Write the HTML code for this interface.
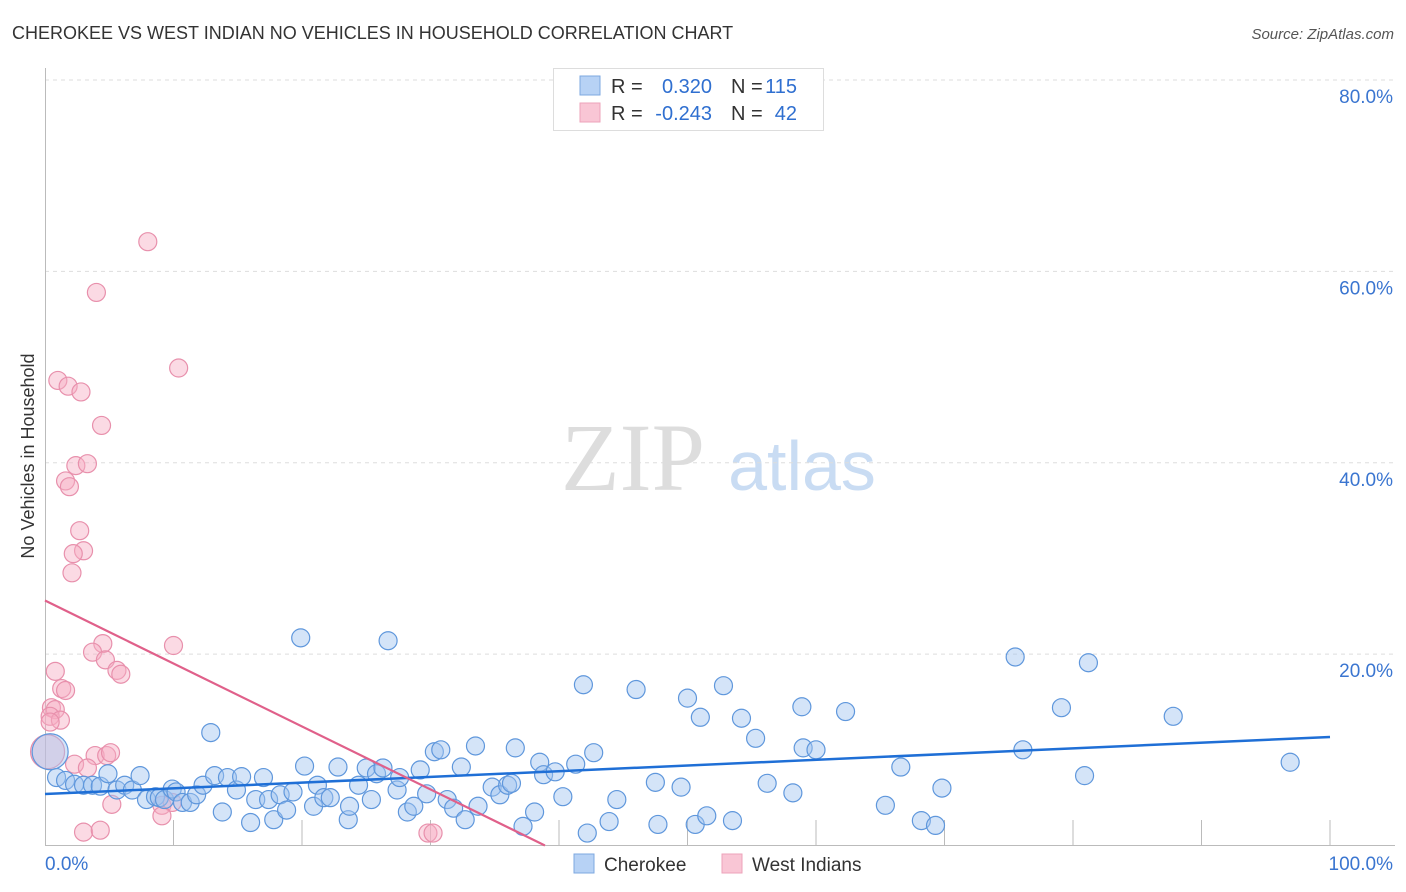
<!DOCTYPE html>
<html><head><meta charset="utf-8">
<style>
body{margin:0;background:#fff;font-family:"Liberation Sans",sans-serif;}
svg{display:block}
</style></head>
<body>
<svg id="chart" width="1406" height="892" xmlns="http://www.w3.org/2000/svg">
<text x="12" y="39" font-size="18" fill="#333">CHEROKEE VS WEST INDIAN NO VEHICLES IN HOUSEHOLD CORRELATION CHART</text>
<text x="1394" y="39" font-size="15" fill="#555" font-style="italic" text-anchor="end">Source: ZipAtlas.com</text>
<g>
<text x="633" y="490" font-size="96" fill="#ddd" font-family="Liberation Serif,serif" text-anchor="middle">ZIP</text>
<text x="802" y="490" font-size="70" fill="#c9dcf3" text-anchor="middle">atlas</text>
</g>
<g id="grid"></g>
<g id="axes"></g>
<g id="pinkpts"></g>
<g id="bluepts"></g>
<g id="lines"></g>
<text transform="translate(34,456) rotate(-90)" font-size="18" fill="#333" text-anchor="middle">No Vehicles in Household</text>
<g>
<rect x="553.5" y="68.5" width="270" height="62" fill="#fff" stroke="#ddd"/>
<rect x="580" y="76" width="20" height="19" fill="#b7d2f5" stroke="#7ea8e0"/>
<rect x="580" y="103" width="20" height="19" fill="#f9c6d5" stroke="#eda3ba"/>
<text x="611" y="93" font-size="20" fill="#333">R = </text><text x="712" y="93" font-size="20" fill="#2f6fd0" text-anchor="end">0.320</text>
<text x="731" y="93" font-size="20" fill="#333">N = </text><text x="797" y="93" font-size="20" fill="#2f6fd0" text-anchor="end">115</text>
<text x="611" y="120" font-size="20" fill="#333">R = </text><text x="712" y="120" font-size="20" fill="#2f6fd0" text-anchor="end">-0.243</text>
<text x="731" y="120" font-size="20" fill="#333">N = </text><text x="797" y="120" font-size="20" fill="#2f6fd0" text-anchor="end">42</text>
</g>
<g>
<rect x="574" y="854" width="20" height="19" fill="#b7d2f5" stroke="#7ea8e0"/>
<text x="604" y="871" font-size="19" fill="#333">Cherokee</text>
<rect x="722" y="854" width="20" height="19" fill="#f9c6d5" stroke="#eda3ba"/>
<text x="752" y="871" font-size="19" fill="#333">West Indians</text>
</g>
</svg>
<script>
const yTicks=[20,40,60,80];
const xTickVals=[10,20,30,40,50,60,70,80,90,100];
const blueX=[0.4,0.9,1.6,2.3,3.0,3.7,4.3,4.9,5.6,6.2,6.8,7.4,7.9,8.6,8.9,9.3,9.9,10.2,10.7,11.3,11.8,12.3,12.9,13.2,13.8,14.2,14.9,15.3,16.0,16.4,17.0,17.4,17.8,18.3,18.8,19.3,19.9,20.2,20.9,21.2,21.7,22.2,22.8,23.6,23.7,24.4,25.0,25.4,25.8,26.3,26.7,27.4,27.6,28.2,28.7,29.2,29.7,30.3,30.8,31.3,31.8,32.4,32.7,33.5,33.7,34.8,35.4,36.0,36.3,36.6,37.2,38.1,38.5,38.8,39.7,40.3,41.3,41.9,42.2,42.7,43.9,44.5,46.0,47.5,47.7,49.5,50.0,50.6,51.0,51.5,52.8,53.5,54.2,55.3,56.2,58.2,58.9,59.0,60.0,62.3,65.4,66.6,68.2,69.3,69.8,75.5,76.1,79.1,80.9,81.2,87.8,96.9];
const blueY=[9.8,7.1,6.8,6.4,6.3,6.3,6.2,7.5,5.8,6.3,5.8,7.3,4.8,5.1,5.0,4.8,5.9,5.6,4.5,4.5,5.3,6.3,11.8,7.3,3.5,7.1,5.8,7.2,2.4,4.8,7.1,4.8,2.7,5.3,3.7,5.6,21.7,8.3,4.1,6.3,5.0,5.0,8.2,2.7,4.1,6.3,8.1,4.8,7.5,8.1,21.4,5.8,7.1,3.5,4.1,7.9,5.4,9.8,10.0,4.8,3.9,8.2,2.7,10.4,4.1,6.1,5.3,6.3,6.5,10.2,2.0,3.5,8.7,7.4,7.7,5.1,8.5,16.8,1.3,9.7,2.5,4.8,16.3,6.6,2.2,6.1,15.4,2.2,13.4,3.1,16.7,2.6,13.3,11.2,6.5,5.5,14.5,10.2,10.0,14.0,4.2,8.2,2.6,2.1,6.0,19.7,10.0,14.4,7.3,19.1,13.5,8.7];
const pinkX=[0.2,8.0,4.0,10.4,1.0,1.8,2.8,4.4,2.4,3.3,1.6,1.9,2.7,3.0,2.2,2.1,4.5,3.7,10.0,4.7,0.8,5.6,5.9,1.3,1.6,0.5,0.8,0.4,1.2,0.4,3.9,4.8,5.1,2.3,3.3,5.2,9.1,9.9,9.1,3.0,4.3,29.8,30.2];
const pinkY=[9.8,63.1,57.8,49.9,48.6,48.0,47.4,43.9,39.7,39.9,38.1,37.5,32.9,30.8,30.5,28.5,21.1,20.2,20.9,19.4,18.2,18.3,17.9,16.4,16.2,14.4,14.2,13.5,13.1,12.9,9.4,9.4,9.7,8.5,8.1,4.3,4.2,4.5,3.1,1.4,1.6,1.3,1.3];
const blueTrend=[5.38,11.34];
const pinkTrend=[25.6,-0.658];
const X0=45,X1=1330,Y0=845.5,Y80=80;
const xs=v=>X0+(X1-X0)*v/100;
const ys=v=>Y0-(Y0-Y80)*v/80;
const NS="http://www.w3.org/2000/svg";
function mk(tag,parent,attrs){const e=document.createElementNS(NS,tag);for(const k in attrs)e.setAttribute(k,attrs[k]);document.getElementById(parent).appendChild(e);return e;}
yTicks.forEach(t=>{
 const l=mk('line','grid',{x1:45,x2:1395,y1:ys(t),y2:ys(t),stroke:'#ddd','stroke-dasharray':'4,4'});
 
 
 const tx=mk('text','grid',{x:1393,y:ys(t)+23,'font-size':19,fill:'#3a75d0','text-anchor':'end'});
 tx.textContent=t.toFixed(1)+'%';
 
 
});
const ax=mk('path','axes',{d:`M45.5 68V845.5H1395`,stroke:'#bbb',fill:'none'});


xTickVals.forEach(t=>{
 const l=mk('line','axes',{x1:xs(t),x2:xs(t),y1:820,y2:845,stroke:'#bbb'});
 
 
});
const xl0=mk('text','axes',{x:45,y:870,'font-size':19,fill:'#3a75d0'});xl0.textContent='0.0%';


const xl1=mk('text','axes',{x:1393,y:870,'font-size':19,fill:'#3a75d0','text-anchor':'end'});xl1.textContent='100.0%';


pinkX.forEach((v,i)=>{
 const c=mk('circle','pinkpts',{cx:xs(v),cy:ys(pinkY[i]),r:i===0?17:9,fill:'rgba(246,172,196,0.45)',stroke:'#e890ac','stroke-width':1.2});
 
 
});
blueX.forEach((v,i)=>{
 const c=mk('circle','bluepts',{cx:xs(v),cy:ys(blueY[i]),r:i===0?18:9,fill:'rgba(160,196,240,0.45)',stroke:'#5f97dc','stroke-width':1.2});
 
 
});
const bl=mk('line','lines',{x1:xs(0),y1:ys(blueTrend[0]),x2:xs(100),y2:ys(blueTrend[1]),stroke:'#1f6fd6','stroke-width':2.5});


const pEnd=-pinkTrend[0]/pinkTrend[1];
const pl=mk('line','lines',{x1:xs(0),y1:ys(pinkTrend[0]),x2:xs(pEnd),y2:ys(0),stroke:'#e0608a','stroke-width':2.2});


</script>
</body></html>
